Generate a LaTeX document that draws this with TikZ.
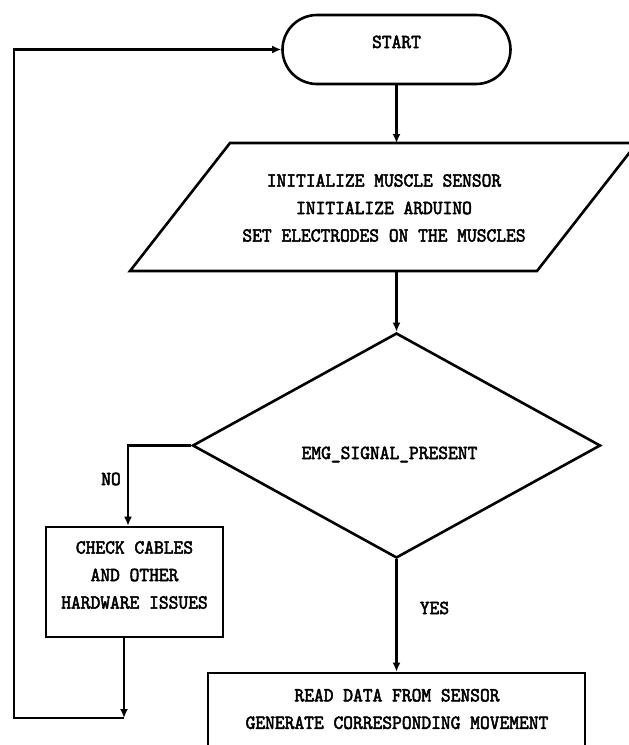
\documentclass[tikz,border=0pt]{standalone}
\usepackage{fontspec}
\newfontfamily\flowfont{lmmono10-regular.otf}[FakeStretch=0.93,FakeBold=2.5]
\usetikzlibrary{shapes.geometric,shapes.misc,arrows.meta}
\begin{document}
\begin{tikzpicture}[x=1pt,y=-1pt,
  txt/.style={font=\flowfont\fontsize{20}{27.5}\selectfont, align=center, inner sep=0pt},
  ln/.style={line width=2.6pt},
  arr/.style={ln,-{Latex[length=9pt,width=8pt]}},
]
\useasboundingbox (0,0) rectangle (629,745);
\clip (0,0) rectangle (629,745);
% START
\node[rounded rectangle, draw, ln, minimum width=228pt, minimum height=69pt, inner sep=0pt] (start) at (396.5,49.5) {};
\node[txt, anchor=base] (starttxt) at (396.5,48) {START};
% parallelogram
\draw[ln] (230,143) -- (637,143) -- (537,271) -- (130,271) -- cycle;
\coordinate (initTop) at (396.5,143);
\coordinate (initBot) at (396.5,271);
\node[txt] (init) at (384,208) {INITIALIZE MUSCLE SENSOR\\INITIALIZE ARDUINO\\SET ELECTRODES ON THE MUSCLES};
% decision
\node[diamond, draw, ln, aspect=2, minimum width=408pt, minimum height=225pt, inner sep=0pt] (emg) at (396.5,445.5) {};
\node[txt, anchor=base] (emgtxt) at (389.5,459) {EMG\_SIGNAL\_PRESENT};
% check box
\node[draw, ln, minimum width=177pt, minimum height=110pt, inner sep=0pt] (check) at (134.5,582) {};
\node[txt] (checktxt) at (134.5,575) {CHECK CABLES\\AND OTHER\\HARDWARE ISSUES};
% read box
\node[draw, ln, minimum width=377pt, minimum height=140pt, inner sep=0pt] (read) at (396.5,743) {};
\node[txt] (readtxt) at (397,709) {READ DATA FROM SENSOR\\GENERATE CORRESPONDING MOVEMENT};
% labels
\node[txt] (no) at (111,479) {NO};
\node[txt] (yes) at (434.5,608) {YES};
% connectors
\coordinate (ret) at (124,718);
\coordinate (loop) at (14,718);
\draw[arr] (start.south) -- (initTop);
\draw[arr] (initBot) -- (emg.north);
\draw[arr] (emg.west) -| ([xshift=-6.5pt]check.north);
\draw[arr] (emg.south) -- (read.north);
\draw[arr] ([xshift=-10.5pt]check.south) -- (ret);
\draw[arr] (ret) -- (loop) |- (start.west);
\end{tikzpicture}
\end{document}
